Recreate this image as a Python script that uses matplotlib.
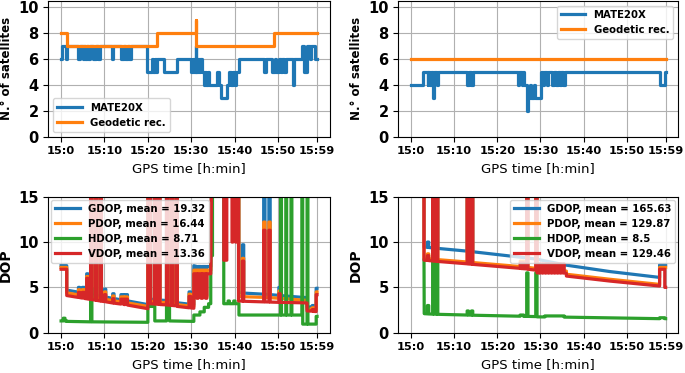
import numpy as np
import matplotlib
matplotlib.use('Agg')
import matplotlib.pyplot as plt

# time axis in minutes after 15:00
tick_min = [0, 10, 20, 30, 40, 50, 59]
tick_lab = ['15:0', '15:10', '15:20', '15:30', '15:40', '15:50', '15:59']

# ---- number of satellites, left session (step series: change time, value)
mate_l_t = [0, 0.2, 1.1, 1.3, 3.98, 4.29, 4.98, 5.36, 5.6, 5.98, 6.28, 6.74, 7.28, 8.05, 8.58, 9.04,
            11.72, 12.03, 13.79, 14.4, 14.71, 15.33, 15.7, 16.1, 19.9, 21.0, 21.3, 21.6, 21.9, 22.2,
            23.75, 26.8, 29.9, 30.3, 30.6, 31.0, 31.2, 31.5, 31.8, 32.1, 32.5, 32.9, 33.2, 33.5, 33.8,
            34.1, 36.0, 36.3, 36.8, 38.3, 38.8, 39.2, 39.6, 40.0, 40.4, 41.0, 46.7, 47.3, 48.7, 49.2,
            49.6, 50.2, 50.6, 51.0, 51.5, 51.9, 53.4, 53.8, 55.6, 55.9, 56.8, 57.3, 57.6, 58.5, 59.0]
mate_l_n = [6, 7, 6, 7, 6, 7, 6, 7, 6, 7, 6, 7, 6, 7, 6, 7,
            6, 7, 6, 7, 6, 7, 6, 7, 5, 6, 5, 6, 5, 6,
            5, 6, 5, 6, 5, 7, 5, 6, 5, 6, 5, 4, 5, 4, 5,
            4, 5, 4, 3, 4, 5, 4, 5, 4, 5, 6, 5, 6, 5, 6,
            5, 6, 5, 6, 5, 6, 4, 6, 7, 5, 7, 6, 7, 6, 6]
geo_l_t = [0, 1.3, 22.2, 31.0, 31.1, 49.0, 59.0]
geo_l_n = [8, 7, 8, 9, 7, 8, 8]

# ---- number of satellites, right session
mate_r_t = [0, 2.84, 3.83, 3.98, 4.44, 4.6, 4.98, 5.29, 5.98, 6.28, 13.0, 13.33, 13.95, 14.25,
            24.83, 25.06, 25.67, 26.05, 26.28, 26.82, 27.05, 27.59, 27.9, 28.5, 28.74, 30.04, 30.5,
            30.8, 31.4, 31.7, 32.7, 33.1, 33.7, 34.1, 34.5, 34.8, 35.1, 35.6, 57.6, 58.9, 59.0]
mate_r_n = [4, 5, 4, 5, 4, 5, 3, 5, 4, 5, 4, 5, 4, 5,
            4, 5, 4, 5, 4, 2, 3, 4, 3, 4, 3, 5, 4,
            5, 4, 5, 4, 5, 4, 5, 4, 5, 4, 5, 4, 5, 5]
geo_r_t = [0, 59.0]
geo_r_n = [6, 6]

# ---- DOP, left session (time, value); values above 15 run off the chart
gdop_l = [(0.0, 7.4), (1.3, 7.4), (1.3, 4.7),
          (4.0, 4.47), (4.0, 5.0), (4.3, 5.0), (4.3, 4.44), (4.9, 4.39), (4.9, 5.0), (5.4, 5.0), (5.4, 4.35),
          (5.9, 4.31), (5.9, 6.5), (6.2, 6.5), (6.2, 4.28), (6.8, 4.23), (6.8, 30), (7.1, 30), (7.1, 4.2),
          (7.9, 4.13), (7.9, 30), (8.2, 30), (8.2, 4.11), (9.0, 4.04), (9.0, 30), (9.3, 30), (9.3, 4.02),
          (10.0, 3.96), (10.0, 4.8), (10.3, 4.8), (10.3, 3.93), (11.9, 3.79), (11.9, 4.3), (12.2, 4.3), (12.2, 3.77),
          (13.8, 3.63), (13.8, 4.2), (14.4, 4.2), (14.4, 3.58), (14.7, 3.56), (14.7, 4.2), (15.3, 4.2), (15.3, 3.51),
          (20.0, 3.1), (20.0, 30), (20.6, 30), (20.6, 3.7), (21.5, 3.66), (21.5, 30), (21.8, 30), (21.8, 3.64),
          (22.5, 3.62), (22.5, 30), (22.8, 30), (22.8, 3.6), (24.3, 3.55), (24.3, 30), (24.6, 30), (24.6, 3.53),
          (25.4, 3.5), (25.4, 30), (25.7, 30), (25.7, 3.48), (26.5, 3.45), (26.5, 30), (26.8, 30), (26.8, 3.3),
          (29.5, 3.15), (29.5, 4.5), (29.9, 4.5), (29.9, 3.12), (30.6, 3.1), (30.6, 7.4),
          (31.3, 7.3), (31.3, 4.1), (31.6, 4.1), (31.6, 7.3), (32.3, 7.3), (32.3, 4.1), (32.6, 4.1), (32.6, 7.3),
          (33.3, 7.3), (33.3, 4.1), (33.6, 4.1), (33.6, 7.3), (34.5, 7.3), (34.9, 30), (41.0, 30), (41.0, 4.4),
          (41.8, 4.38), (41.8, 9.7), (42.1, 9.7), (42.1, 4.37), (46.7, 4.25), (46.7, 30), (47.0, 30), (47.0, 4.24),
          (47.9, 4.22), (47.9, 30), (48.2, 30), (48.2, 4.2), (50.2, 4.12), (50.2, 5.0), (50.5, 5.0), (50.5, 4.1),
          (55.6, 3.9), (56.7, 3.88), (56.7, 2.85), (57.9, 2.82), (57.9, 3.0), (58.2, 3.0), (58.2, 2.8),
          (58.8, 2.78), (58.8, 4.9), (59.0, 4.9)]
pdop_l = [(0.0, 7.2), (1.3, 7.2), (1.3, 4.4),
          (4.0, 4.18), (4.0, 4.75), (4.3, 4.75), (4.3, 4.16), (4.9, 4.11), (4.9, 4.75), (5.4, 4.75), (5.4, 4.07),
          (5.9, 4.03), (5.9, 6.2), (6.2, 6.2), (6.2, 4.0), (6.8, 3.96), (6.8, 30), (7.1, 30), (7.1, 3.94),
          (7.9, 3.87), (7.9, 30), (8.2, 30), (8.2, 3.85), (9.0, 3.78), (9.0, 30), (9.3, 30), (9.3, 3.76),
          (10.0, 3.70), (10.0, 4.5), (10.3, 4.5), (10.3, 3.68), (11.9, 3.54), (11.9, 4.05), (12.2, 4.05), (12.2, 3.52),
          (13.8, 3.40), (13.8, 3.95), (14.4, 3.95), (14.4, 3.36), (14.7, 3.34), (14.7, 3.95), (15.3, 3.95), (15.3, 3.29),
          (20.0, 2.9), (20.0, 30), (20.6, 30), (20.6, 3.45), (21.5, 3.42), (21.5, 30), (21.8, 30), (21.8, 3.4),
          (22.5, 3.38), (22.5, 30), (22.8, 30), (22.8, 3.36), (24.3, 3.32), (24.3, 30), (24.6, 30), (24.6, 3.3),
          (25.4, 3.27), (25.4, 30), (25.7, 30), (25.7, 3.25), (26.5, 3.22), (26.5, 30), (26.8, 30), (26.8, 3.1),
          (29.5, 2.95), (29.5, 4.25), (29.9, 4.25), (29.9, 2.93), (30.6, 2.9), (30.6, 6.9),
          (31.3, 6.9), (31.3, 3.95), (31.6, 3.95), (31.6, 6.9), (32.3, 6.9), (32.3, 3.95), (32.6, 3.95), (32.6, 6.9),
          (33.3, 6.9), (33.3, 3.95), (33.6, 3.95), (33.6, 6.9), (34.5, 6.9), (34.9, 30), (41.0, 30), (41.0, 4.0),
          (41.8, 3.98), (41.8, 8.2), (42.1, 8.2), (42.1, 3.97), (46.7, 3.9), (46.7, 12.2), (47.0, 12.2), (47.0, 3.89),
          (47.9, 3.88), (47.9, 12.2), (48.2, 12.2), (48.2, 3.87), (50.2, 3.8), (50.2, 4.6), (50.5, 4.6), (50.5, 3.79),
          (55.6, 3.6), (56.7, 3.58), (56.7, 2.62), (57.9, 2.6), (57.9, 2.75), (58.2, 2.75), (58.2, 2.58),
          (58.8, 2.56), (58.8, 4.5), (59.0, 4.5)]
hdop_l = [(0.0, 1.3), (0.5, 1.3), (0.5, 1.6), (0.9, 1.6), (0.9, 1.3), (1.3, 1.3), (1.3, 1.25),
          (6.8, 1.2), (6.8, 4.9), (7.1, 4.9), (7.1, 1.2), (20.0, 1.15), (20.0, 2.9), (21.6, 2.9), (21.6, 1.3),
          (24.3, 1.3), (24.3, 2.9), (25.0, 2.9), (25.0, 1.3), (30.6, 1.25), (30.6, 1.95),
          (32.0, 1.95), (32.0, 2.3), (33.0, 2.3), (33.0, 2.8), (34.0, 2.8), (34.0, 3.2), (34.5, 3.2),
          (34.5, 8.5), (34.9, 8.5), (34.9, 30), (37.5, 30), (37.5, 3.2), (38.5, 3.2), (38.5, 3.5), (38.8, 3.5),
          (38.8, 3.2), (39.8, 3.2), (39.8, 3.5), (40.1, 3.5), (40.1, 3.2), (41.0, 3.2), (41.0, 1.95),
          (50.6, 1.95), (50.6, 30), (50.8, 30), (50.8, 1.95), (51.8, 1.95), (51.8, 30), (52.0, 30), (52.0, 1.95),
          (53.0, 1.95), (53.0, 30), (53.2, 30), (53.2, 1.95), (55.5, 1.95), (55.5, 30), (55.7, 30), (55.7, 0.95),
          (56.7, 0.95), (56.7, 30), (56.9, 30), (56.9, 0.95), (58.8, 0.95), (58.8, 1.8), (59.0, 1.8)]
vdop_l = [(0.0, 7.0), (1.3, 7.0), (1.3, 4.1),
          (4.0, 3.89), (4.0, 4.45), (4.3, 4.45), (4.3, 3.87), (4.9, 3.82), (4.9, 4.45), (5.4, 4.45), (5.4, 3.78),
          (5.9, 3.74), (5.9, 6.0), (6.2, 6.0), (6.2, 3.72), (6.8, 3.67), (6.8, 30), (7.1, 30), (7.1, 3.65),
          (7.9, 3.59), (7.9, 30), (8.2, 30), (8.2, 3.57), (9.0, 3.5), (9.0, 30), (9.3, 30), (9.3, 3.48),
          (10.0, 3.43), (10.0, 4.2), (10.3, 4.2), (10.3, 3.41), (11.9, 3.28), (11.9, 3.75), (12.2, 3.75), (12.2, 3.26),
          (13.8, 3.16), (13.8, 3.7), (14.4, 3.7), (14.4, 3.12), (14.7, 3.1), (14.7, 3.7), (15.3, 3.7), (15.3, 3.05),
          (20.0, 2.65), (20.0, 30), (20.6, 30), (20.6, 3.2), (21.5, 3.17), (21.5, 30), (21.8, 30), (21.8, 3.15),
          (22.5, 3.13), (22.5, 30), (22.8, 30), (22.8, 3.11), (24.3, 3.07), (24.3, 30), (24.6, 30), (24.6, 3.05),
          (25.4, 3.02), (25.4, 30), (25.7, 30), (25.7, 3.0), (26.5, 2.97), (26.5, 30), (26.8, 30), (26.8, 2.9),
          (29.5, 2.75), (29.5, 4.0), (29.9, 4.0), (29.9, 2.73), (30.6, 2.7), (30.6, 6.5),
          (31.3, 6.5), (31.3, 3.8), (31.6, 3.8), (31.6, 6.5), (32.3, 6.5), (32.3, 3.8), (32.6, 3.8), (32.6, 6.5),
          (33.3, 6.5), (33.3, 3.8), (33.6, 3.8), (33.6, 6.5), (34.5, 6.5), (34.9, 30),
          (37.5, 30), (37.5, 8.0), (38.2, 8.0), (38.2, 30), (39.4, 30), (39.4, 10.0), (39.6, 10.0), (39.6, 30),
          (40.2, 30), (40.2, 10.0), (40.4, 10.0), (40.4, 30), (40.9, 30), (40.9, 3.5),
          (41.8, 3.48), (41.8, 7.9), (42.1, 7.9), (42.1, 3.47), (46.7, 3.4), (46.7, 11.3), (47.0, 11.3), (47.0, 3.4),
          (47.9, 3.39), (47.9, 11.3), (48.2, 11.3), (48.2, 3.38), (50.2, 3.35), (50.2, 4.3), (50.5, 4.3), (50.5, 3.35),
          (55.6, 3.3), (56.7, 3.28), (56.7, 2.4), (57.9, 2.38), (57.9, 2.55), (58.2, 2.55), (58.2, 2.35),
          (58.8, 2.33), (58.8, 4.2), (59.0, 4.2)]

# ---- DOP, right session
gdop_r = [(3.0, 30), (3.0, 9.45), (3.8, 9.42), (3.8, 10.0), (4.1, 10.0), (4.1, 9.4),
          (5.0, 9.36), (5.0, 30), (5.3, 30), (5.3, 9.34), (5.9, 9.32), (5.9, 30), (6.2, 30), (6.2, 9.3),
          (13.0, 9.0), (13.0, 30), (13.3, 30), (13.3, 8.98), (14.0, 8.95), (14.0, 30), (14.3, 30), (14.3, 8.93),
          (26.8, 8.25), (26.8, 30), (27.1, 30), (27.1, 8.23), (28.9, 8.13), (28.9, 30), (29.2, 30), (29.2, 8.1),
          (36.0, 7.45), (46.0, 6.75), (57.6, 6.1), (57.6, 7.5), (59.0, 7.5)]
pdop_r = [(3.0, 30), (3.0, 8.2), (3.8, 8.17), (3.8, 8.7), (4.1, 8.7), (4.1, 8.15),
          (5.0, 8.12), (5.0, 30), (5.3, 30), (5.3, 8.1), (5.9, 8.08), (5.9, 30), (6.2, 30), (6.2, 8.06),
          (13.0, 7.8), (13.0, 30), (13.3, 30), (13.3, 7.78), (14.0, 7.76), (14.0, 30), (14.3, 30), (14.3, 7.74),
          (25.3, 7.3), (25.3, 7.9), (25.5, 7.9), (25.5, 7.28), (25.9, 7.27), (25.9, 7.9), (26.1, 7.9), (26.1, 7.26),
          (26.8, 7.24), (26.8, 30), (27.1, 30), (27.1, 7.2), (28.9, 7.1), (28.9, 30), (29.2, 30), (29.2, 6.85),
          (36.0, 6.8), (36.0, 6.45), (46.0, 5.9), (57.6, 5.33), (57.6, 7.2), (59.0, 7.2)]
hdop_r = [(3.0, 8.0), (3.05, 2.1), (3.8, 2.08), (3.8, 3.0), (4.1, 3.0), (4.1, 2.07),
          (5.0, 2.05), (5.0, 8.0), (5.3, 8.0), (5.3, 2.05), (5.9, 2.04), (5.9, 8.0), (6.2, 8.0), (6.2, 2.03),
          (13.0, 1.95), (13.0, 2.4), (13.3, 2.4), (13.3, 1.95), (14.0, 1.94), (14.0, 2.4), (14.3, 2.4), (14.3, 1.93),
          (25.3, 1.82), (25.3, 1.95), (26.1, 1.95), (26.1, 1.8), (26.8, 1.8), (26.8, 6.6), (27.1, 6.6), (27.1, 1.8),
          (28.9, 1.78), (28.9, 6.6), (29.2, 6.6), (29.2, 1.75), (31.0, 1.74), (31.0, 1.85), (35.5, 1.85),
          (35.5, 1.72), (57.6, 1.55), (57.6, 1.65), (58.8, 1.65), (58.8, 1.55), (59.0, 1.55)]
vdop_r = [(3.0, 30), (3.0, 8.0), (3.8, 7.97), (3.8, 8.5), (4.1, 8.5), (4.1, 7.95),
          (5.0, 7.92), (5.0, 30), (5.3, 30), (5.3, 7.9), (5.9, 7.88), (5.9, 30), (6.2, 30), (6.2, 7.86),
          (13.0, 7.6), (13.0, 30), (13.3, 30), (13.3, 7.58), (14.0, 7.56), (14.0, 30), (14.3, 30), (14.3, 7.54),
          (25.3, 7.1), (25.3, 7.7), (25.5, 7.7), (25.5, 7.08), (25.9, 7.07), (25.9, 7.7), (26.1, 7.7), (26.1, 7.06),
          (26.8, 7.04), (26.8, 30), (27.1, 30), (27.1, 7.0), (28.9, 6.9), (28.9, 30), (29.2, 30), (29.2, 6.6),
          (29.7, 6.6), (29.7, 7.6), (29.9, 7.6), (29.9, 6.6), (30.4, 6.6), (30.4, 7.6), (30.6, 7.6), (30.6, 6.6),
          (31.1, 6.6), (31.1, 7.6), (31.3, 7.6), (31.3, 6.6), (31.8, 6.6), (31.8, 7.6), (32.0, 7.6), (32.0, 6.6),
          (32.5, 6.6), (32.5, 7.6), (32.7, 7.6), (32.7, 6.6), (33.2, 6.6), (33.2, 7.6), (33.4, 7.6), (33.4, 6.6),
          (33.9, 6.6), (33.9, 7.6), (34.1, 7.6), (34.1, 6.6), (34.6, 6.6), (34.6, 7.6), (34.8, 7.6), (34.8, 6.6),
          (35.3, 6.6), (35.3, 7.6), (35.5, 7.6), (35.5, 6.6),
          (36.0, 6.55), (36.0, 6.25), (46.0, 5.7), (57.6, 5.15), (57.6, 7.0), (58.8, 7.0), (58.8, 5.0), (59.0, 5.0)]

dop_names = ['GDOP', 'PDOP', 'HDOP', 'VDOP']
mean_l = [19.32, 16.44, 8.71, 13.36]
mean_r = [165.63, 129.87, 8.5, 129.46]
colors = ['#1f77b4', '#ff7f0e', '#2ca02c', '#d62728']

plt.rcParams['font.family'] = 'DejaVu Sans'
plt.rcParams['font.weight'] = 'bold'
LW = 2.3

fig = plt.figure(figsize=(6.85, 3.73), dpi=100)
ax1 = fig.add_axes([0.0705, 0.6335, 0.411, 0.3646])
ax2 = fig.add_axes([0.5815, 0.6335, 0.4088, 0.3646])
ax3 = fig.add_axes([0.0705, 0.108, 0.411, 0.3646])
ax4 = fig.add_axes([0.5815, 0.108, 0.4088, 0.3646])

ax1.step(mate_l_t, mate_l_n, where='post', color=colors[0], lw=LW, label='MATE20X')
ax1.step(geo_l_t, geo_l_n, where='post', color=colors[1], lw=LW, label='Geodetic rec.')
ax2.step(mate_r_t, mate_r_n, where='post', color=colors[0], lw=LW, label='MATE20X')
ax2.step(geo_r_t, geo_r_n, where='post', color=colors[1], lw=LW, label='Geodetic rec.')

for ax, series, means in [(ax3, [gdop_l, pdop_l, hdop_l, vdop_l], mean_l),
                          (ax4, [gdop_r, pdop_r, hdop_r, vdop_r], mean_r)]:
    for s, name, m, c in zip(series, dop_names, means, colors):
        t, v = zip(*s)
        ax.plot(t, v, color=c, lw=LW, label=f'{name}, mean = {m}')

leg_prop = {'weight': 'bold', 'size': 7.3}
ax1.legend(loc='lower left', prop=leg_prop, handlelength=2.4)
ax2.legend(loc='upper right', prop=leg_prop, handlelength=2.4)
ax3.legend(loc='upper left', prop=leg_prop, handlelength=2.4, borderaxespad=0.3)
ax4.legend(loc='upper right', prop=leg_prop, handlelength=2.4, borderaxespad=0.3)

for ax in [ax1, ax2]:
    ax.set_ylim(0, 10.46)
    ax.set_yticks([0, 2, 4, 6, 8, 10])
    ax.set_ylabel('N.° of satellites', fontsize=8.5, fontweight='bold')
for ax in [ax3, ax4]:
    ax.set_ylim(0, 15)
    ax.set_yticks([0, 5, 10, 15])
    ax.set_ylabel('DOP', fontsize=10, fontweight='bold')

for ax in [ax1, ax2, ax3, ax4]:
    ax.set_xlim(-2.95, 61.95)
    ax.set_xticks(tick_min)
    ax.set_xticklabels(tick_lab, fontsize=8.2, fontweight='bold')
    for lab in ax.get_yticklabels():
        lab.set_fontsize(10.5)
        lab.set_fontweight('bold')
    ax.set_xlabel('GPS time [h:min]', fontsize=9.5, fontweight='normal')
    ax.grid(True, color='#b0b0b0', lw=0.8)
    ax.set_axisbelow(True)

fig.savefig('out.png', dpi=100)
